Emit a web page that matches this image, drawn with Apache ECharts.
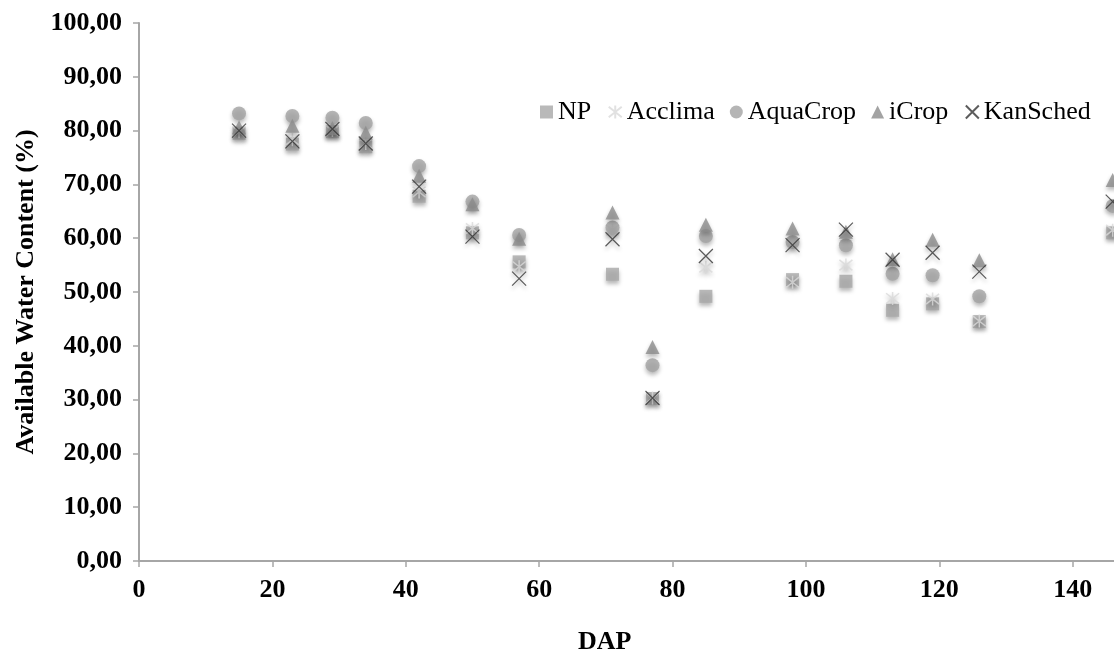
<!DOCTYPE html>
<html lang="en">
<head>
    <meta charset="UTF-8">
    <title>Available Water Content</title>
    <style>
        html, body { margin: 0; padding: 0; background: #fff; }
        #chart { width: 1114px; height: 656px; }
    </style>
</head>
<body>
    <div id="chart"></div>
    <script src="https://cdn.jsdelivr.net/npm/echarts@6/dist/echarts.min.js"></script>
    <script>
        // DAP (days after planting)
        const dap = [15, 23, 29, 34, 42, 50, 57, 71, 77, 85, 98, 106, 113, 119, 126, 146];

        // available water content (%) per model
        const npVals       = [79.5, 77.5, 79.8, 77.0, 67.8, 61.0, 55.6, 53.3, 30.2, 49.2, 52.3, 52.0, 46.6, 47.8, 44.5, 61.0];
        const acclimaVals  = [79.8, 78.3, 80.0, 77.6, 68.6, 61.8, 54.7, 61.5, 30.3, 54.6, 51.8, 55.0, 48.8, 48.7, 44.6, 61.5];
        const aquacropVals = [83.2, 82.7, 82.4, 81.4, 73.4, 66.8, 60.6, 62.0, 36.4, 60.4, 59.3, 58.7, 53.4, 53.1, 49.2, 66.0];
        const icropVals    = [80.6, 80.9, 80.5, 79.6, 71.6, 66.3, 59.9, 64.8, 39.8, 62.5, 61.8, 61.2, 56.1, 59.7, 55.9, 70.8];
        const kanschedVals = [80.0, 78.0, 80.3, 77.6, 69.6, 60.3, 52.5, 59.8, 30.3, 56.7, 58.7, 61.6, 56.0, 57.3, 53.8, 66.8];

        const seriesNames = ['NP', 'Acclima', 'AquaCrop', 'iCrop', 'KanSched'];

        // the original plot is cut off at the right edge, a bit past 140
        const xMax = 146.2;

        const font = 'Liberation Serif';
        const shadow = { shadowBlur: 4, shadowColor: 'rgba(0,0,0,0.35)', shadowOffsetY: 3 };

        function pairs(vals) {
            return dap.map(function(d, i) { return [d, vals[i]]; });
        }

        const chart = echarts.init(document.getElementById('chart'));

        chart.setOption({
            animation: false,
            backgroundColor: '#fff',
            legend: {
                data: seriesNames,
                left: 535,
                top: 94,
                itemWidth: 13,
                itemHeight: 13,
                itemGap: 15,
                textStyle: { fontFamily: font, fontSize: 26, color: '#000' }
            },
            grid: { left: 139, top: 23, right: 0, bottom: 95, containLabel: false },
            xAxis: {
                type: 'value',
                min: 0,
                max: xMax,
                interval: 20,
                splitLine: { show: false },
                axisLine: { onZero: false, lineStyle: { color: '#a6a6a6', width: 2 } },
                axisTick: { show: true, length: 6, lineStyle: { color: '#a6a6a6', width: 1.5 } },
                axisLabel: {
                    margin: 16, showMaxLabel: false,
                    fontFamily: font, fontSize: 26, fontWeight: 'bold', color: '#000'
                }
            },
            yAxis: {
                type: 'value',
                min: 0,
                max: 100,
                interval: 10,
                name: 'Available Water Content (%)',
                nameLocation: 'middle',
                nameGap: 98,
                nameTextStyle: { fontFamily: font, fontSize: 26, fontWeight: 'bold', color: '#000' },
                splitLine: { show: false },
                axisLine: { show: true, lineStyle: { color: '#a6a6a6', width: 2 } },
                axisTick: { show: true, length: 6, lineStyle: { color: '#a6a6a6', width: 1.5 } },
                axisLabel: {
                    margin: 17,
                    fontFamily: font, fontSize: 26, fontWeight: 'bold', color: '#000',
                    formatter: function(v) { return v.toFixed(2).replace('.', ','); }
                }
            },
            graphic: [{
                type: 'text',
                left: 578,
                top: 629,
                style: { text: 'DAP', font: 'bold 26px "Liberation Serif"', fill: '#000' }
            }],
            series: [
                {
                    name: 'NP', type: 'scatter', data: pairs(npVals),
                    symbol: 'rect', symbolSize: 13,
                    itemStyle: Object.assign({ color: '#a8a8a8' }, shadow)
                },
                {
                    name: 'Acclima', type: 'scatter', data: pairs(acclimaVals),
                    symbol: 'path://M0,1L10,9M10,1L0,9M5,0L5,10', symbolSize: 13,
                    itemStyle: Object.assign({ color: 'none', borderColor: '#d9d9d9', borderWidth: 1.5 }, shadow)
                },
                {
                    name: 'AquaCrop', type: 'scatter', data: pairs(aquacropVals),
                    symbol: 'circle', symbolSize: 14,
                    itemStyle: Object.assign({ color: '#a3a3a3' }, shadow)
                },
                {
                    name: 'iCrop', type: 'scatter', data: pairs(icropVals),
                    symbol: 'triangle', symbolSize: 14,
                    itemStyle: Object.assign({ color: '#8c8c8c' }, shadow)
                },
                {
                    name: 'KanSched', type: 'scatter', data: pairs(kanschedVals),
                    symbol: 'path://M0,0L10,10M10,0L0,10', symbolSize: 14,
                    itemStyle: Object.assign({ color: 'none', borderColor: '#333', borderWidth: 1.2 }, shadow)
                }
            ]
        });
    </script>
</body>
</html>
